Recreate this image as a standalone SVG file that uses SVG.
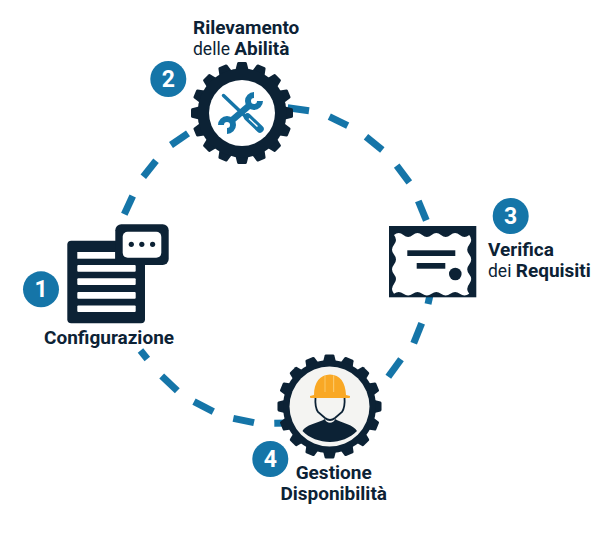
<svg xmlns="http://www.w3.org/2000/svg" width="600" height="534" viewBox="0 0 600 534">
<style>
.dk{fill:#0c2235}
.bl{fill:#1575a8}
.wh{fill:#fff}
.dash{stroke:#1575a8;stroke-width:7;fill:none}
.badge{font:700 23px Roboto,sans-serif;fill:#fff;text-anchor:middle}
.lb{font:700 19px Roboto,sans-serif;fill:#0c2235}
.rg{font-weight:400;font-size:17.500px}
.tool{fill:none;stroke:#1575a8}
</style>
<defs>
<path id="tooth" d="M-6.800,-42 L-4.800,-50 Q-4.500,-51 -3.500,-51 L3.500,-51 Q4.500,-51 4.800,-50 L6.800,-42Z"/>
<g id="teeth">
<use href="#tooth"/><use href="#tooth" transform="rotate(22.5)"/><use href="#tooth" transform="rotate(45)"/><use href="#tooth" transform="rotate(67.5)"/>
<use href="#tooth" transform="rotate(90)"/><use href="#tooth" transform="rotate(112.5)"/><use href="#tooth" transform="rotate(135)"/><use href="#tooth" transform="rotate(157.5)"/>
<use href="#tooth" transform="rotate(180)"/><use href="#tooth" transform="rotate(202.5)"/><use href="#tooth" transform="rotate(225)"/><use href="#tooth" transform="rotate(247.5)"/>
<use href="#tooth" transform="rotate(270)"/><use href="#tooth" transform="rotate(292.5)"/><use href="#tooth" transform="rotate(315)"/><use href="#tooth" transform="rotate(337.5)"/>
</g>
</defs>
<rect width="600" height="534" fill="#fff"/>
<g id="connectors" class="dash">
<path d="M188,133.300L171,145"/>
<path d="M156,160.700L143.300,176.700"/>
<path d="M132.700,196L124.300,214.300"/>
<path d="M287.700,107.700L309,110.700"/>
<path d="M329.300,116.700L347.700,125.700"/>
<path d="M366,136.700L382.300,150"/>
<path d="M396.700,165.700L409.300,182.300"/>
<path d="M418.300,201L426.300,220.300"/>
<path d="M430,295L428,304"/>
<path d="M421.700,323.300L413.700,343.300"/>
<path d="M401,359.300L388.300,376.700"/>
<path d="M140.500,350.500L147.300,359"/>
<path d="M161.700,376L177.300,390.700"/>
<path d="M194,401.700L213.300,411.700"/>
<path d="M233.300,418.300L254,422.700"/>
<path d="M274.300,423.300L292,423"/>
</g>
<g id="node-1">
<rect class="dk" x="67.300" y="240.700" width="77.700" height="82.600" rx="4"/>
<rect class="wh" x="77.300" y="252" width="38" height="6.700"/>
<rect class="wh" x="77.300" y="265" width="58.400" height="6.700" rx="1"/>
<rect class="wh" x="77.300" y="278.300" width="58.400" height="6.700" rx="1"/>
<rect class="wh" x="77.300" y="292" width="58.400" height="6.700" rx="1"/>
<rect class="wh" x="77.300" y="305.500" width="58.400" height="6.400" rx="1"/>
<rect class="dk" x="115.300" y="224.300" width="53.400" height="40.700" rx="6"/>
<rect class="wh" x="122.700" y="231.700" width="38.600" height="26" rx="5"/>
<circle class="dk" cx="131.300" cy="244.300" r="2.600"/><circle class="dk" cx="141.800" cy="244.300" r="2.600"/><circle class="dk" cx="152.600" cy="244.300" r="2.600"/>
<circle class="bl" cx="41" cy="289.300" r="18"/>
<text class="badge" x="41" y="297.300">1</text>
<text class="lb" x="44" y="344">Configurazione</text>
</g>
<g id="node-2">
<use class="dk" href="#teeth" transform="translate(242 113)"/>
<circle class="dk" cx="242" cy="113" r="44.500"/>
<circle class="wh" cx="242" cy="113" r="33"/>
<path class="tool" stroke-width="3.500" stroke-linecap="round" d="M223.500,95.500L246,117"/>
<path class="tool" stroke-width="6.500" d="M230,122L251,104"/>
<path class="tool" stroke-width="6" d="M254,95A6,6 0 1 0 260,101"/>
<path class="tool" stroke-width="6" d="M227,131A6,6 0 1 0 221,125"/>
<path class="tool" stroke-width="7.500" stroke-linecap="round" d="M247.500,117L260,129"/>
<path stroke="#fff" stroke-width="1.400" fill="none" d="M249,118.500L257.500,126.500"/>
<circle class="bl" cx="168.300" cy="79" r="18"/>
<text class="badge" x="168.300" y="87">2</text>
<text class="lb" x="193" y="34">Rilevamento</text>
<text class="lb" x="193" y="55"><tspan class="rg">delle </tspan>Abilità</text>
</g>
<g id="node-3">
<rect class="dk" x="389" y="226" width="87.300" height="71.300"/>
<path class="wh" d="M394,235 q4.700,-4 9.400,0 t9.400,0 t9.400,0 t9.400,0 t9.400,0 t9.400,0 t9.400,0 t9.400,0 q4,4.900 0,9.800 t0,9.800 t0,9.800 t0,9.800 t0,9.800 t0,9.800 q-4.700,3.600 -9.400,0 t-9.400,0 t-9.400,0 t-9.400,0 t-9.400,0 t-9.400,0 t-9.400,0 t-9.400,0 q-4,-4.900 0,-9.800 t0,-9.800 t0,-9.800 t0,-9.800 t0,-9.800 t0,-9.800Z"/>
<rect class="dk" x="407.300" y="250.300" width="48" height="5.700"/>
<rect class="dk" x="416.700" y="263" width="28.600" height="5.700"/>
<circle class="dk" cx="455.300" cy="274" r="6.300"/>
<circle class="bl" cx="510.700" cy="216" r="18"/>
<text class="badge" x="510.700" y="224">3</text>
<text class="lb" x="488" y="256">Verifica</text>
<text class="lb" x="488" y="276.700"><tspan class="rg">dei </tspan>Requisiti</text>
</g>
<g id="node-4">
<use class="dk" href="#teeth" transform="translate(329.500 406.500) scale(1.02)"/>
<circle class="dk" cx="329.500" cy="406.500" r="46.500"/>
<circle cx="329.500" cy="406.500" r="40" fill="#f4f4f2"/>
<path class="dk" d="M302.500,431 C305,425 318,423 325,419 C326,424 334,424 335,419 C342,423 354,425 357,431 C350,438 340,442 330,442 C320,442 309,438 302.500,431Z"/>
<path fill="#f4f4f2" stroke="#0c2235" stroke-width="1.800" d="M315.500,397 C315,404 316,409 318,412 L325,418 Q330,422 335,418 L342,412 C344,409 345,404 344.500,397Z"/>
<path fill="#f9a825" d="M314,395 C314,382 320,375 330,374.500 C340,375 345.500,382 346,395 L350,396 Q350.500,398 349,398 L311,398 Q309.500,398 310,396Z"/>
<path fill="#fcc766" d="M324.500,375.500 L325.500,375.300 L325.500,392 L324.500,392Z M333,375.300 L334.200,375.500 L334.200,392 L333,392Z"/>
<circle class="bl" cx="270.300" cy="459" r="18"/>
<text class="badge" x="270.300" y="467">4</text>
<text class="lb" x="333.700" y="479" text-anchor="middle">Gestione</text>
<text class="lb" x="333.700" y="500" text-anchor="middle">Disponibilità</text>
</g>
</svg>
